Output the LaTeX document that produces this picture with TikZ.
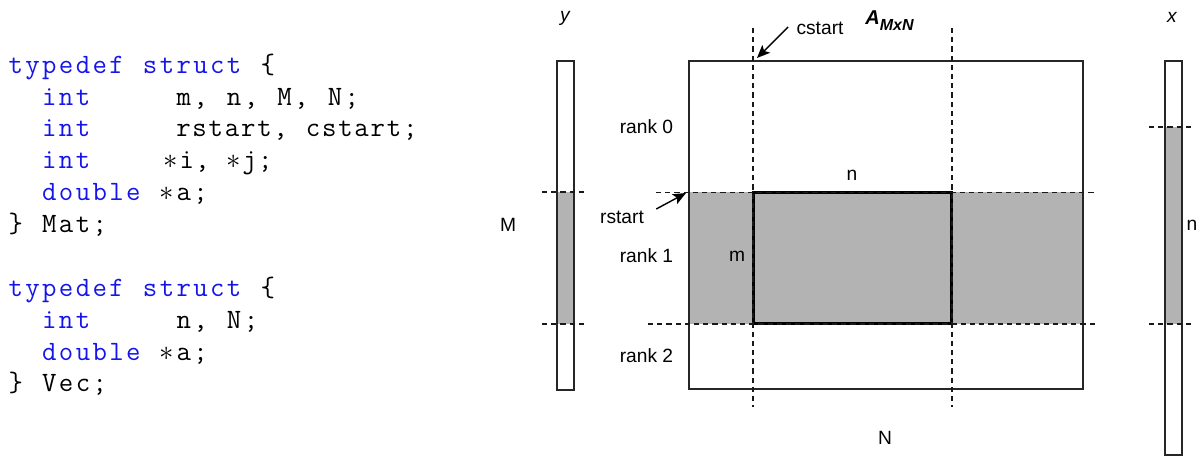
\documentclass[tikz,border=0pt]{standalone}
\usepackage{fontspec}
\usepackage{xcolor}
\usetikzlibrary{arrows.meta}
\newfontfamily\arial{Liberation Sans}
\definecolor{codeblue}{RGB}{20,20,235}
\definecolor{bandgray}{RGB}{179,179,179}
\newlength\cw
\setlength\cw{8.4pt}
\ExplSyntaxOn
\NewDocumentCommand\fx{m}{\tl_map_inline:nn{#1}{\makebox[\cw]{##1}}}
\NewDocumentCommand\fxw{mm}{\tl_map_inline:nn{#2}{\makebox[#1]{##1}}}
\ExplSyntaxOff
\newcommand\kw[1]{\textcolor{codeblue}{\fx{#1}}}
\newcommand\pstar{$\ast$}
\tikzset{
  codeline/.style={anchor=base west, inner sep=0pt, font=\fontsize{14pt}{16pt}\ttfamily},
  lbl/.style={inner sep=0pt, font=\arial\fontsize{9.6pt}{11pt}\selectfont},
  ilbl/.style={inner sep=0pt, font=\arial\itshape\fontsize{9.6pt}{11pt}\selectfont},
  outline/.style={draw=black!85, line width=0.7pt},
  guide/.style={draw=black!90, line width=0.65pt, dash pattern=on 2.6pt off 2pt},
  subbox/.style={draw=black, line width=1.5pt},
  pointer/.style={draw=black, line width=0.7pt, -{Stealth[length=6.5pt,width=5.5pt,inset=1.5pt]}},
}
\begin{document}
\begin{tikzpicture}[x=0.5pt,y=-0.5pt]
\useasboundingbox (0,0) rectangle (1202,459);
% ---------- code ----------
\node[codeline] (c0)  at (7,73.3)  {\kw{typedef}\fx{~}\kw{struct}\fx{~\{}};
\node[codeline] (c1)  at (7,105.2) {\fx{~~}\kw{int}\fx{~~~~~m,~n,~M,~N;}};
\node[codeline] (c2)  at (7,137.0) {\fx{~~}\kw{int}\fx{~~~~~}\fxw{8.1pt}{rstart,~cstart;}};
\node[codeline] (c3)  at (7,168.9) {\fx{~~}\kw{int}\fx{~~~~}\hspace{2.3pt}\fxw{7.85pt}{{\pstar}i,~{\pstar}j;}};
\node[codeline] (c4)  at (7,200.7) {\fx{~~}\kw{double}\fx{~{\pstar}a;}};
\node[codeline] (c5)  at (7,232.6) {\fx{\}~Mat;}};
\node[codeline] (c7)  at (7,296.3) {\kw{typedef}\fx{~}\kw{struct}\fx{~\{}};
\node[codeline] (c8)  at (7,328.1) {\fx{~~}\kw{int}\fx{~~~~~n,~N;}};
\node[codeline] (c9)  at (7,360.0) {\fx{~~}\kw{double}\fx{~{\pstar}a;}};
\node[codeline] (c10) at (7,391.8) {\fx{\}~Vec;}};
% ---------- vector y ----------
\fill[bandgray] (557,192) rectangle (574,324);
\draw[outline] (557,61) rectangle (574,390);
\draw[guide] (542,192) -- (586,192);
\draw[guide] (542,324) -- (586,324);
\node[ilbl] (ylab) at (565,18) {y};
\node[lbl] (Mlab) at (508,225) {M};
% ---------- matrix ----------
\fill[bandgray] (689,192) rectangle (1083,324);
\draw[outline] (689,61) rectangle (1083,389);
\draw[subbox] (753,192.5) rectangle (951.5,323.5);
\draw[guide] (753,28) -- (753,407);
\draw[guide] (952,28) -- (952,407);
\draw[guide] (656,192.5) -- (1097,192.5);
\draw[guide] (648,324) -- (1097,324);
\node[lbl] (r0) at (646.5,127) {rank 0};
\node[lbl] (r1) at (646.5,256) {rank 1};
\node[lbl] (r2) at (646.5,356) {rank 2};
\node[lbl] (mlab) at (737,256) {m};
\node[lbl] (ntop) at (852,175) {n};
\node[lbl] (Nlab) at (885,438) {N};
\node[anchor=base west, inner sep=0pt, font=\arial\bfseries\itshape\fontsize{10pt}{12pt}\selectfont] (amn) at (865,25)
  {A\raisebox{-3pt}{\fontsize{8pt}{10pt}\selectfont MxN}};
\node[lbl] (cs) at (820,28) {cstart};
\node[lbl] (rs) at (622,217) {rstart};
\coordinate (ctip) at (757,58);
\coordinate (rtip) at (686,193);
\draw[pointer] ([xshift=-4pt,yshift=0.5pt]cs.west) -- (ctip);
\draw[pointer] ([xshift=6pt,yshift=4pt]rs.east) -- (rtip);
% ---------- vector x ----------
\fill[bandgray] (1165,127) rectangle (1182,324);
\draw[outline] (1165,61) rectangle (1182,455);
\draw[guide] (1149,127) -- (1193,127);
\draw[guide] (1149,324) -- (1193,324);
\node[ilbl] (xlab) at (1172,17) {x};
\node[lbl] (nright) at (1192,225) {n};
\end{tikzpicture}
\end{document}
